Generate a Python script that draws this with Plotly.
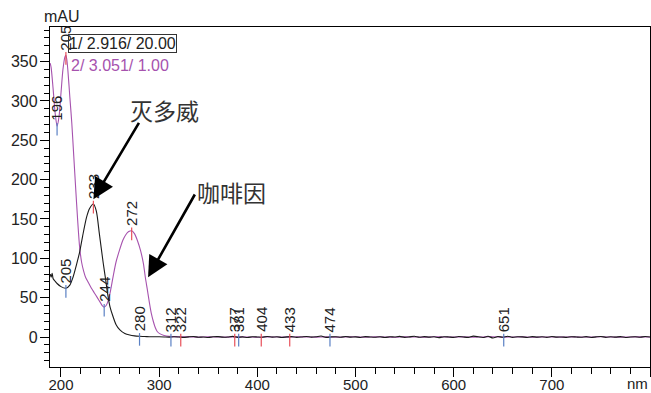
import plotly.graph_objects as go

# ---- spectra (wavelength in nm, absorbance in mAU) ----
black_nm = [189, 190, 191, 192, 194, 196, 200, 205, 209, 212, 216, 219, 222, 226, 229,
            233, 236, 239, 241, 243, 245, 248, 250, 253, 256, 260, 265, 270, 275, 280,
            285, 290, 295]
black_val = [80, 76, 81, 74, 71, 68, 64, 62, 66, 75, 93, 108, 128, 152, 163,
             169, 160, 132, 113, 94, 77, 51, 38, 26, 16, 9, 4.5, 2.5, 1.5, 1.0,
             0.6, 0.4, 0.3]
black_base_nm = list(range(300, 801, 5))
black_base_val = [0.3, 0.1, -0.2, 0.4, 0.0, -0.5, 0.2, 0.6, -0.3, 0.1,
                  -0.6, 0.3, 0.5, -0.2, 0.0, 0.8, -0.4, 0.2, -0.7, 0.4,
                  0.1, -0.3, 0.6, -0.1, 0.3, -0.6, 0.2, 0.5, -0.4, 0.0,
                  0.7, -0.2, 0.3, 1.2, -0.5, 0.1, 0.4, -0.3, 0.6, -0.1,
                  0.2, -0.6, 0.5, 0.0, -0.3, 0.4, -0.7, 0.3, 0.1, 0.8,
                  -0.4, 0.2, 1.0, -0.3, 0.5, -0.2, 0.3, -0.8, 0.4, 0.1,
                  -0.5, 0.6, 0.0, -0.4, 1.1, 0.3, -0.6, 0.9, -1.2, 0.7,
                  -0.3, 1.0, -0.5, 0.4, 0.2, -0.6, 0.5, -0.1, 0.3, -0.4,
                  0.6, -0.2, 0.1, -0.5, 0.4, 0.0, -0.3, 0.5, -0.6, 0.2,
                  0.7, -0.4, 0.3, -0.2, 0.5, -0.7, 0.1, 0.4, -0.3, 0.6,
                  0.0]

purple_nm = [189, 190, 192, 194, 196, 198, 200, 202, 204, 205, 206, 207, 209, 211, 213,
             215, 217, 219, 221, 223, 225, 228, 231, 234, 237, 240, 242, 244, 246, 248,
             250, 253, 256, 260, 263, 266, 269, 272, 275, 278, 281, 284, 286, 288, 290,
             292, 294, 296, 298, 301, 305]
purple_val = [348, 342, 315, 285, 268, 280, 310, 340, 356, 358, 352, 339, 305, 272, 230,
              188, 148, 114, 95, 84, 76, 69, 62, 56, 50, 44, 40, 38, 40, 46,
              56, 76, 95, 112, 123, 130, 134, 135, 131, 122, 110, 93, 75, 60, 44,
              30, 20, 12, 7, 4, 2]
purple_base_nm = list(range(310, 801, 10))
purple_base_val = [0.8, 0.4, 0.2, -0.1, 0.3, 0.0, -0.2, 0.2, 0.1, -0.3,
                   0.2, 0.0, -0.2, 0.3, 0.1, -0.1, 0.2, -0.2, 0.1, 0.3,
                   -0.1, 0.2, 0.0, -0.3, 0.2, 0.1, -0.2, 0.3, 0.0, -0.1,
                   0.2, -0.2, 0.1, 0.3, -0.1, 0.0, 0.2, -0.3, 0.1, 0.0,
                   -0.2, 0.2, 0.1, -0.1, 0.3, 0.0, -0.2, 0.1, 0.2, 0.0]

# ---- detected peaks (red) and valleys (blue) ----
peak_nm = [205, 233, 272, 322, 377, 404, 433]
peak_val = [358, 169, 135, 0, 0, 0, 0]
valley_nm = [196, 205, 244, 280, 312, 381, 474, 651]
valley_val = [268, 62, 38, 1, 0, 0, 0, 0]

x_ticks = [200, 300, 400, 500, 600, 700, 800]
x_ticktext = ["200", "300", "400", "500", "600", "700", ""]
y_ticks = [0, 50, 100, 150, 200, 250, 300, 350]

PURPLE = "#A652AE"
BLACK = "#1a1a1a"
RED = "#E8505A"
BLUE = "#5A80C4"
FONT = "Arial, Liberation Sans, sans-serif"
CJK = "Noto Sans CJK SC"

fig = go.Figure()
fig.add_trace(go.Scatter(
    x=purple_nm + purple_base_nm, y=purple_val + purple_base_val, mode="lines",
    line=dict(color=PURPLE, width=1.1, shape="spline", smoothing=0.7),
    hoverinfo="skip"))
fig.add_trace(go.Scatter(
    x=black_nm + black_base_nm, y=black_val + black_base_val, mode="lines",
    line=dict(color=BLACK, width=1.1, shape="spline", smoothing=0.7),
    hoverinfo="skip"))

# short tick marks hanging below each detected extremum
TICK_DROP = 4
fig.add_trace(go.Scatter(
    x=peak_nm, y=[v - TICK_DROP for v in peak_val], mode="markers",
    marker=dict(symbol="line-ns", size=9, line=dict(color=RED, width=1.2)),
    hoverinfo="skip"))
fig.add_trace(go.Scatter(
    x=valley_nm, y=[v - TICK_DROP for v in valley_val], mode="markers",
    marker=dict(symbol="line-ns", size=9, line=dict(color=BLUE, width=1.2)),
    hoverinfo="skip"))

annotations = []
for nm, v in list(zip(peak_nm, peak_val)) + list(zip(valley_nm, valley_val)):
    annotations.append(dict(
        x=nm, y=v, xref="x", yref="y", text=str(nm), showarrow=False,
        textangle=-90, xanchor="center", yanchor="bottom", yshift=3,
        font=dict(family=FONT, size=15, color="#222")))

# trace identifiers
annotations.append(dict(
    x=0.03, y=0.979, xref="paper", yref="paper", xanchor="left", yanchor="top",
    text="1/ 2.916/ 20.00", showarrow=False, bordercolor="#333", borderwidth=1,
    borderpad=0, font=dict(family=FONT, size=16, color="#222")))
annotations.append(dict(
    x=0.032, y=0.918, xref="paper", yref="paper", xanchor="left", yanchor="top",
    text="2/ 3.051/ 1.00", showarrow=False,
    font=dict(family=FONT, size=16, color=PURPLE)))

# axis units
annotations.append(dict(
    x=-0.0133, y=1, xref="paper", yref="paper", xanchor="left", yanchor="bottom",
    text="mAU", showarrow=False, font=dict(family=FONT, size=16, color="#222")))
annotations.append(dict(
    x=1, y=0, xref="paper", yref="paper", xanchor="right", yanchor="top",
    yshift=-6, text="nm", showarrow=False,
    font=dict(family=FONT, size=15, color="#222")))

# compound labels with arrows
annotations.append(dict(
    x=305.7, y=288, xref="x", yref="y", text="灭多威", showarrow=False,
    font=dict(family=CJK, size=23, color="#333")))
annotations.append(dict(
    x=373.8, y=184, xref="x", yref="y", text="咖啡因", showarrow=False,
    font=dict(family=CJK, size=23, color="#333")))
annotations.append(dict(
    x=233, y=175, ax=280.3, ay=274, xref="x", yref="y", axref="x", ayref="y",
    text="", showarrow=True, arrowhead=2, arrowsize=1.6, arrowwidth=2.6,
    arrowcolor="black"))
annotations.append(dict(
    x=288.7, y=76, ax=337.2, ay=183, xref="x", yref="y", axref="x", ayref="y",
    text="", showarrow=True, arrowhead=2, arrowsize=1.6, arrowwidth=2.6,
    arrowcolor="black"))

axis_common = dict(
    showgrid=False, zeroline=False, showline=True, linecolor="black",
    linewidth=1.3, mirror=True, ticks="outside", ticklen=9, tickwidth=1,
    tickcolor="black", automargin=False)

fig.update_layout(
    width=651, height=393,
    margin=dict(l=50, r=1, t=27, b=26),
    paper_bgcolor="white", plot_bgcolor="white",
    showlegend=False,
    annotations=annotations,
    xaxis=dict(range=[188.8, 800], tickvals=x_ticks, ticktext=x_ticktext,
               ticklabelstandoff=-5,
               tickfont=dict(family=FONT, size=15, color="#222"),
               minor=dict(dtick=20, tick0=200, ticks="outside", ticklen=6,
                          tickcolor="black", tickwidth=1),
               **axis_common),
    yaxis=dict(range=[-38.1, 393.9], tickvals=y_ticks, ticklabelstandoff=-1,
               tickfont=dict(family=FONT, size=16, color="#222"),
               minor=dict(dtick=10, tick0=0, ticks="outside", ticklen=5,
                          tickcolor="black", tickwidth=1),
               **axis_common),
)

fig.write_html("out.html")
